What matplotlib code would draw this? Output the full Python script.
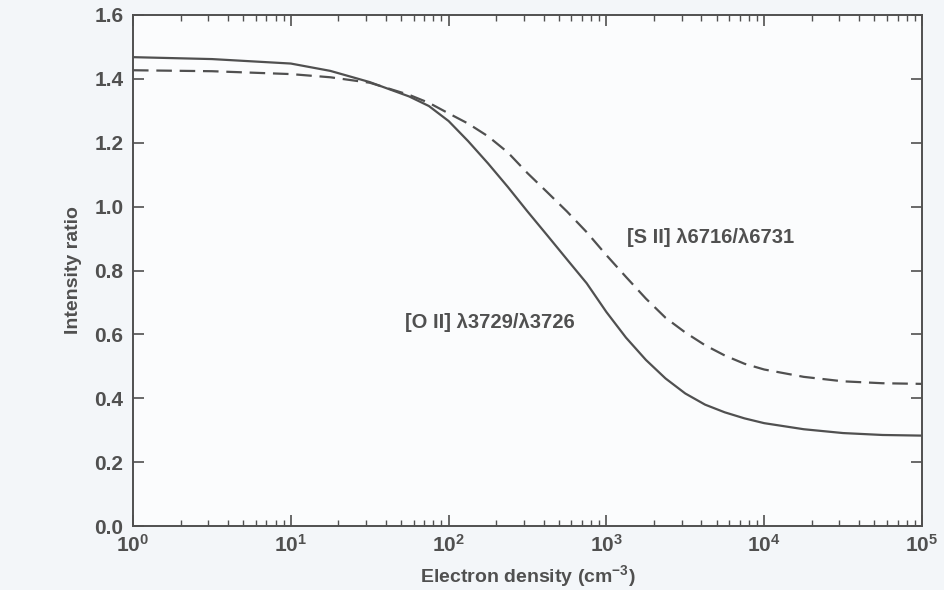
import numpy as np
import matplotlib
matplotlib.use("Agg")
import matplotlib.pyplot as plt
from matplotlib.ticker import LogLocator, NullLocator, MultipleLocator

plt.rcParams['font.family'] = ['Liberation Sans', 'DejaVu Sans']
plt.rcParams['font.weight'] = 'bold'
plt.rcParams['axes.labelweight'] = 'bold'
plt.rcParams['mathtext.fontset'] = 'custom'
plt.rcParams['mathtext.rm'] = 'Liberation Sans:bold'
plt.rcParams['mathtext.it'] = 'Liberation Sans:bold'

# electron density (cm^-3)
density = [1, 3.16, 10, 17.8, 31.6, 56.2, 75, 100, 133, 178, 237, 316, 422, 562,
           750, 1000, 1330, 1780, 2370, 3160, 4220, 5620, 7500, 10000,
           17800, 31600, 56200, 100000]
# [O II] 3729/3726 (solid)
o2_ratio = [1.468, 1.462, 1.448, 1.425, 1.390, 1.345, 1.315, 1.268, 1.205, 1.135,
            1.062, 0.985, 0.910, 0.835, 0.760, 0.670, 0.590, 0.520, 0.462, 0.415,
            0.380, 0.356, 0.337, 0.322, 0.303, 0.291, 0.285, 0.283]
# [S II] 6716/6731 (dashed)
s2_ratio = [1.427, 1.424, 1.415, 1.405, 1.388, 1.350, 1.325, 1.292, 1.260, 1.220,
            1.170, 1.105, 1.045, 0.985, 0.920, 0.848, 0.780, 0.712, 0.652, 0.606,
            0.566, 0.534, 0.508, 0.490, 0.467, 0.453, 0.447, 0.445]

line_col = '#505050'
text_col = '#505050'

fig = plt.figure(figsize=(9.44, 5.90), dpi=100, facecolor='#f3f6f9')
ax = fig.add_axes([133/944, 1 - 526/590, (922 - 133)/944, (526 - 15)/590])
ax.set_facecolor('#fbfcfd')

ax.semilogx(density, o2_ratio, color=line_col, lw=1.6)
ax.semilogx(density, s2_ratio, color=line_col, lw=1.6, dashes=(7, 3.5))

ax.set_xlim(1, 1e5)
ax.set_ylim(0, 1.6)

ax.xaxis.set_major_locator(LogLocator(base=10, numticks=10))
ax.xaxis.set_minor_locator(LogLocator(base=10, subs=np.arange(2, 10), numticks=10))
ax.yaxis.set_major_locator(MultipleLocator(0.2))
ax.yaxis.set_minor_locator(NullLocator())
ax.yaxis.set_major_formatter(plt.FuncFormatter(lambda v, p: f"{v:.1f}"))

ax.tick_params(which='both', direction='in', top=True, right=True,
               color=line_col, labelcolor=text_col, labelsize=15)
ax.tick_params(axis='y', which='major', length=8, width=1.2, pad=7)
ax.tick_params(axis='x', which='major', length=8, width=1.2, pad=6)
ax.tick_params(axis='x', which='minor', length=4, width=1.0)
for sp in ax.spines.values():
    sp.set_color(line_col)
    sp.set_linewidth(1.4)

ax.set_xlabel('Electron density (cm$^{-3}$)', fontsize=14, color=text_col, labelpad=5)
ax.set_ylabel('Intensity ratio', fontsize=14, color=text_col, labelpad=9)

ax.text(1350, 0.902, '[S II] λ6716/λ6731', fontsize=14.5, color=text_col,
        ha='left', va='center')
ax.text(53, 0.636, '[O II] λ3729/λ3726', fontsize=14.5, color=text_col,
        ha='left', va='center')

fig.savefig('out.png', dpi=100, facecolor=fig.get_facecolor())
